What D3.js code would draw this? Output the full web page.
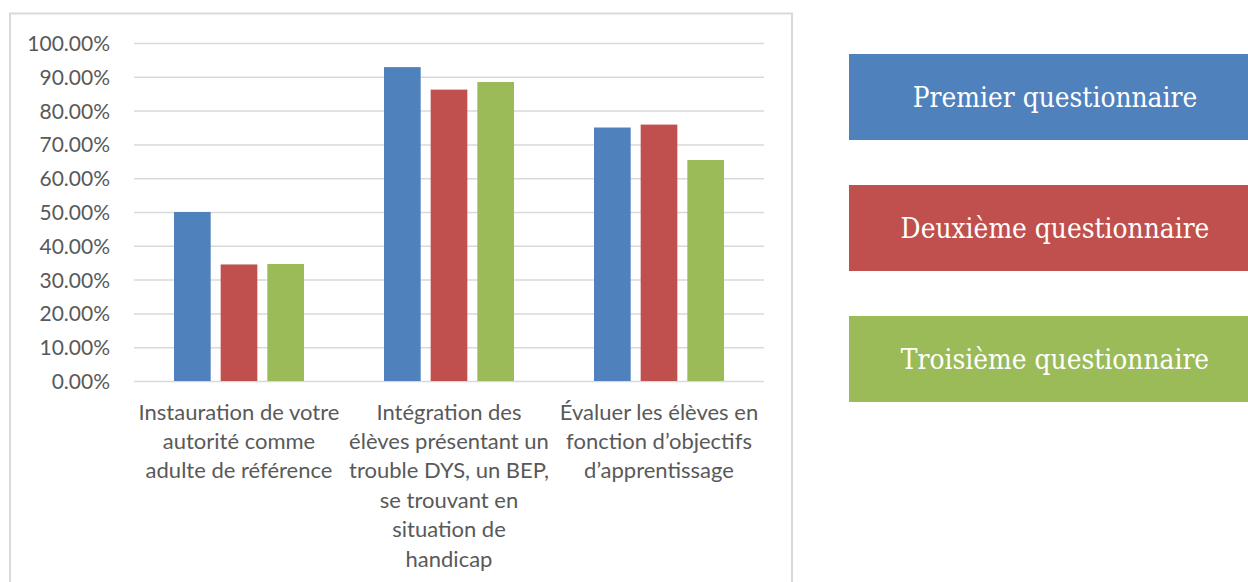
<!DOCTYPE html>
<html>
<head>
<meta charset="utf-8">
<script src="https://cdn.jsdelivr.net/npm/d3@7"></script>
<style>
  html, body { margin: 0; padding: 0; background: #fff; overflow: hidden; }
  svg { display: block; }
</style>
</head>
<body>
<svg id="chart" width="1248" height="582"></svg>
<script>
// Categories, with the line breaks used under the axis
const categories = [
  "Instauration de votre autorité comme adulte de référence",
  "Intégration des élèves présentant un trouble DYS, un BEP, se trouvant en situation de handicap",
  "Évaluer les élèves en fonction d’objectifs d’apprentissage"
];
const categoryLines = [
  ["Instauration de votre", "autorité comme", "adulte de référence"],
  ["Intégration des", "élèves présentant un", "trouble DYS, un BEP,", "se trouvant en", "situation de", "handicap"],
  ["Évaluer les élèves en", "fonction d’objectifs", "d’apprentissage"]
];

// Series names and values (percent)
const seriesNames = ["Premier questionnaire", "Deuxième questionnaire", "Troisième questionnaire"];
const premier   = [50.00, 92.86, 75.00];
const deuxieme  = [34.48, 86.21, 75.86];
const troisieme = [34.62, 88.46, 65.38];
const seriesColors = ["#4f81bd", "#c0504d", "#9bbb59"];

// Value axis ticks
const yTicks = [0, 10, 20, 30, 40, 50, 60, 70, 80, 90, 100];

const seriesValues = [premier, deuxieme, troisieme];
const rows = categories.map((c, i) => ({
  category: c,
  values: seriesNames.map((s, j) => ({ series: s, value: seriesValues[j][i], color: seriesColors[j] }))
}));

const svg = d3.select("#chart");

// Chart frame
svg.append("rect")
  .attr("x", 10).attr("y", 13.5)
  .attr("width", 782).attr("height", 600)
  .attr("fill", "#fff")
  .attr("stroke", "#d9d9d9")
  .attr("stroke-width", 2);

const plot = { left: 134, right: 764, top: 43, bottom: 381 };

const x0 = d3.scaleBand()
  .domain(categories)
  .range([plot.left, plot.right])
  .paddingInner(0).paddingOuter(0);

const x1 = d3.scaleBand()
  .domain(seriesNames)
  .range([40, x0.bandwidth() - 40])
  .paddingInner(0.214).paddingOuter(0);

const y = d3.scaleLinear().domain([0, 100]).range([plot.bottom, plot.top]);

// Gridlines and tick labels
const yAxis = d3.axisLeft(y)
  .tickValues(yTicks)
  .tickSize(-(plot.right - plot.left))
  .tickPadding(24)
  .tickFormat(d => d.toFixed(2) + "%");

const gy = svg.append("g")
  .attr("transform", `translate(${plot.left},0)`)
  .call(yAxis);
gy.select(".domain").remove();
gy.selectAll(".tick line")
  .attr("stroke", "#d9d9d9")
  .attr("stroke-width", 1.5);
gy.selectAll(".tick text")
  .attr("fill", "#595959")
  .attr("font-family", "Lato, 'Open Sans', sans-serif")
  .attr("font-size", 21)
  .attr("dy", "0.36em");

// Bars
const groups = svg.append("g").selectAll("g")
  .data(rows)
  .join("g")
  .attr("transform", d => `translate(${x0(d.category)},0)`);

groups.selectAll("rect")
  .data(d => d.values)
  .join("rect")
  .attr("x", d => x1(d.series))
  .attr("width", x1.bandwidth())
  .attr("y", d => y(d.value))
  .attr("height", d => y(0) - y(d.value))
  .attr("fill", d => d.color);

// Category labels under the axis, centred on each group
const lineStep = 29.4;
const firstBaseline = 419.5;

const labels = svg.append("g").selectAll("text")
  .data(categories.map((c, i) => ({ category: c, lines: categoryLines[i] })))
  .join("text")
  .attr("text-anchor", "middle")
  .attr("fill", "#595959")
  .attr("font-family", "Lato, 'Open Sans', sans-serif")
  .attr("font-size", 22);

labels.selectAll("tspan")
  .data(d => d.lines.map(line => ({ line, cx: x0(d.category) + x0.bandwidth() / 2 })))
  .join("tspan")
  .attr("x", d => d.cx)
  .attr("y", (d, k) => firstBaseline + k * lineStep)
  .text(d => d.line);

// Legend boxes
const legendY = d3.scalePoint().domain(seriesNames).range([97, 359]);
const legend = svg.append("g").selectAll("g")
  .data(seriesNames.map((s, j) => ({ name: s, color: seriesColors[j] })))
  .join("g")
  .attr("transform", d => `translate(0,${legendY(d.name)})`);

legend.append("rect")
  .attr("x", 849).attr("y", -43)
  .attr("width", 412).attr("height", 86)
  .attr("fill", d => d.color);

legend.append("text")
  .attr("transform", "translate(1055,9.7) scale(1,1.1)")
  .attr("text-anchor", "middle")
  .attr("fill", "#fff")
  .attr("font-family", "'DejaVu Serif', 'Liberation Serif', serif")
  .attr("font-size", 25)
  .text(d => d.name);
</script>
</body>
</html>
